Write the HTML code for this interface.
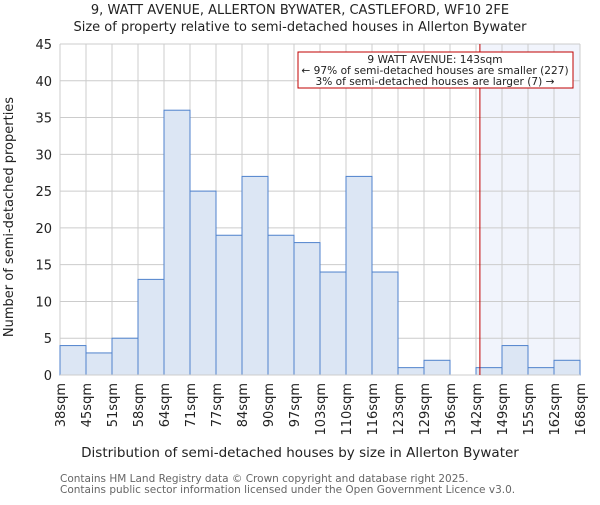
<!DOCTYPE html>
<html><head><meta charset="utf-8"><style>
body{margin:0;background:#fff;}
svg text{font-family:"DejaVu Sans","Liberation Sans",sans-serif;fill:#222;}
</style></head><body>
<svg id="chart" width="600" height="500" xmlns="http://www.w3.org/2000/svg">
<text x="300" y="14" text-anchor="middle" font-size="13">9, WATT AVENUE, ALLERTON BYWATER, CASTLEFORD, WF10 2FE</text>
<text x="300" y="31" text-anchor="middle" font-size="13">Size of property relative to semi-detached houses in Allerton Bywater</text>
<g id="grid"></g>
<g id="bars"></g>
<g id="axes"></g>
<text x="300" y="457" text-anchor="middle" font-size="13.5">Distribution of semi-detached houses by size in Allerton Bywater</text>
<text transform="translate(13,217) rotate(-90)" text-anchor="middle" font-size="13">Number of semi-detached properties</text>
<text x="60" y="482" font-size="10.5" style="fill:#666">Contains HM Land Registry data © Crown copyright and database right 2025.</text>
<text x="60" y="493" font-size="10.5" style="fill:#666">Contains public sector information licensed under the Open Government Licence v3.0.</text>
</svg>
<script>
const categories=["38sqm","45sqm","51sqm","58sqm","64sqm","71sqm","77sqm","84sqm","90sqm","97sqm","103sqm","110sqm","116sqm","123sqm","129sqm","136sqm","142sqm","149sqm","155sqm","162sqm","168sqm"];
const counts=[4,3,5,13,36,25,19,27,19,18,14,27,14,1,2,0,1,4,1,2];
const yTicks=[0,5,10,15,20,25,30,35,40,45];
const markerIndex=16.15;
const NS="http://www.w3.org/2000/svg";
const L=60,R=580,T=44,B=375,yMax=45;
const bw=(R-L)/counts.length;
const x=i=>L+i*bw;
const y=v=>B-(v/yMax)*(B-T);
function mk(tag,attrs,parent){const e=document.createElementNS(NS,tag);for(const k in attrs)e.setAttribute(k,attrs[k]);parent.appendChild(e);return e;}
const grid=document.getElementById('grid'),bars=document.getElementById('bars'),axes=document.getElementById('axes');
const hl=mk('rect',{x:x(markerIndex),y:T,width:R-x(markerIndex),height:B-T,fill:'#f1f4fc'},grid);


yTicks.forEach(t=>{
 const g=mk('line',{x1:L,x2:R,y1:y(t),y2:y(t),stroke:'#cccccc','stroke-width':1},grid);
 
 
 const tx=mk('text',{x:L-8,y:y(t)+5,'text-anchor':'end','font-size':13},axes);
 tx.textContent=t;
 
 
});
categories.forEach((c,i)=>{
 const g=mk('line',{x1:x(i),x2:x(i),y1:T,y2:B,stroke:'#cccccc','stroke-width':1},grid);
 
 
 const tx=mk('text',{transform:`translate(${x(i)+5},${B+8}) rotate(-90)`,'text-anchor':'end','font-size':13},axes);
 tx.textContent=c;
 
 
});
counts.forEach((v,i)=>{
 if(v<=0)return;
 const r=mk('rect',{x:x(i),y:y(v),width:bw,height:B-y(v),fill:'#dce6f4',stroke:'#4f82cc','stroke-width':1},bars);
 
 
});
const ax=mk('line',{x1:L,x2:R,y1:B,y2:B,stroke:'#cccccc'},axes);


const ml=mk('line',{x1:x(markerIndex),x2:x(markerIndex),y1:T,y2:B,stroke:'#c00000','stroke-width':1},axes);


const ann=mk('g',{},axes);


mk('rect',{x:298,y:52,width:275,height:36,fill:'#fff',stroke:'#c00000','stroke-width':1},ann);
[["9 WATT AVENUE: 143sqm",63],["← 97% of semi-detached houses are smaller (227)",74],["3% of semi-detached houses are larger (7) →",85]].forEach(([s,yy])=>{
 const t=mk('text',{x:435,y:yy,'text-anchor':'middle','font-size':10.6},ann);
 t.textContent=s;
 
 
});
</script>
</body></html>
